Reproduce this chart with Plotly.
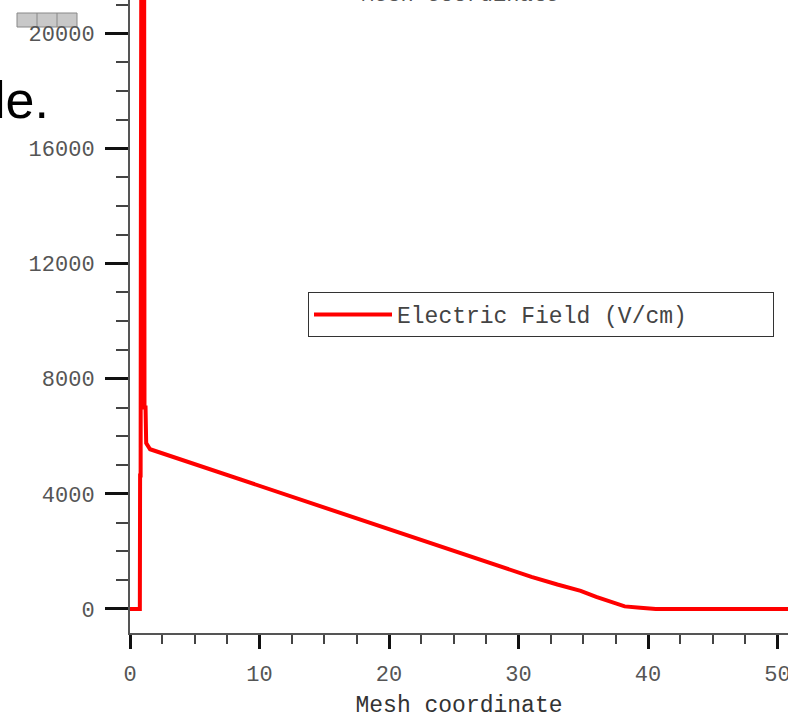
import plotly.graph_objects as go

# Data
mesh_x = [0, 0.76, 0.78, 0.82, 0.84, 0.9, 1.08, 1.12, 1.2, 1.25, 1.55, 10, 20, 27,
          31, 33, 34.8, 36, 37.3, 38.2, 39.4, 40.6, 45, 51]
field_y = [0, 0, 4640, 4640, 14000, 30000, 30000, 7000, 7000, 5760, 5550, 4274, 2764, 1710,
           1117, 850, 630, 420, 210, 90, 40, 0, 0, 0]
series_name = "Electric Field (V/cm)"
x_title = "Mesh coordinate"
x_ticks = [0, 10, 20, 30, 40, 50]
x_tick_text = ["0", "10", "20", "30", "40", "50"]
y_ticks = [0, 4000, 8000, 12000, 16000, 20000]
y_tick_text = ["0", "4000", "8000", "12000", "16000", "20000"]

W, H = 788, 720
ML, MR, MT, MB = 130, 0, 0, 87
PW, PH = W - ML - MR, H - MT - MB

def px(xp):
    return (xp - ML) / PW

def py(yp):
    return 1 - (yp - MT) / PH

MONO = "Liberation Mono"

fig = go.Figure()
fig.add_trace(go.Scatter(
    x=mesh_x, y=field_y, mode="lines", name=series_name + "\u00a0" * 5 + "\u2002",
    line=dict(color="#ff0000", width=4),
))

fig.update_layout(
    width=W, height=H,
    margin=dict(l=ML, r=MR, t=MT, b=MB, pad=0, autoexpand=False),
    paper_bgcolor="white", plot_bgcolor="white",
    showlegend=True,
    legend=dict(
        x=px(308), y=py(292), xanchor="left", yanchor="top",
        bgcolor="white", bordercolor="#333", borderwidth=1,
        font=dict(family=MONO, size=23, color="#444"),
        itemwidth=78,
    ),
    xaxis=dict(
        range=[0, (W - ML) / 12.95],
        showgrid=False, zeroline=False,
        showline=True, linecolor="#555", linewidth=2,
        ticks="outside", tickmode="array", tickvals=x_ticks, ticktext=x_tick_text,
        ticklen=14, tickwidth=2.5, tickcolor="#111",
        minor=dict(ticks="outside", dtick=2.5, tick0=0, ticklen=9, tickwidth=1.5, tickcolor="#444"),
        tickfont=dict(family=MONO, size=22, color="#555"),
        ticklabelstandoff=6, ticklabeloverflow="allow",
        title=dict(text=x_title, font=dict(family=MONO, size=23, color="#333"), standoff=8),
        automargin=False,
    ),
    yaxis=dict(
        range=[-834, 21157],
        showgrid=False, zeroline=False,
        showline=True, linecolor="#555", linewidth=2,
        ticks="outside", tickmode="array", tickvals=y_ticks, ticktext=y_tick_text,
        ticklen=23, tickwidth=2.5, tickcolor="#111",
        minor=dict(ticks="outside", dtick=1000, tick0=0, ticklen=12, tickwidth=1.5, tickcolor="#444"),
        tickfont=dict(family=MONO, size=22, color="#555"),
        ticklabelstandoff=6, ticklabeloverflow="allow",
        automargin=False,
    ),
    shapes=[
        dict(type="rect", xref="paper", yref="paper", x0=px(17), x1=px(77), y0=py(27), y1=py(13),
             fillcolor="#c8c8c8", line=dict(color="#888", width=1), layer="below"),
        dict(type="line", xref="paper", yref="paper", x0=px(37), x1=px(37), y0=py(27), y1=py(13),
             line=dict(color="#888", width=1), layer="below"),
        dict(type="line", xref="paper", yref="paper", x0=px(57), x1=px(57), y0=py(27), y1=py(13),
             line=dict(color="#888", width=1), layer="below"),
    ],
    annotations=[
        dict(text="le.", xref="paper", yref="paper", x=px(51), y=py(100),
             xanchor="right", yanchor="middle", showarrow=False,
             font=dict(family="Liberation Sans", size=52, color="black")),
        dict(text=x_title, xref="paper", yref="paper", x=px(460), y=py(10),
             xanchor="center", yanchor="bottom", showarrow=False,
             font=dict(family=MONO, size=22, color="#555")),
    ],
)

fig.write_html("out.html")
